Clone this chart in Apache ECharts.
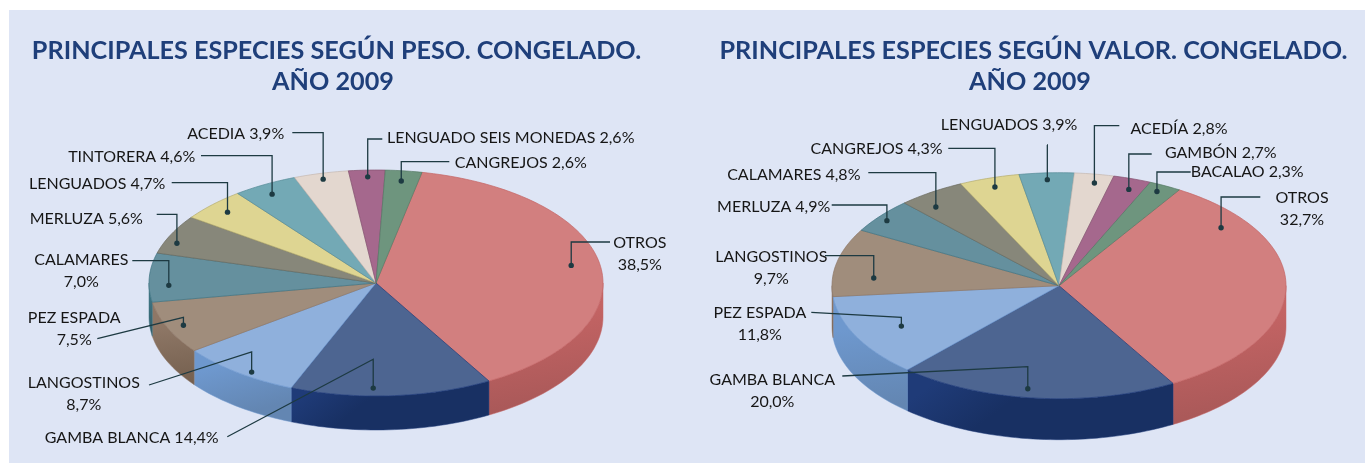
<!DOCTYPE html>
<html><head><meta charset="utf-8">
<style>html,body{margin:0;padding:0;background:#fff}#c{width:1365px;height:463px}</style>
<script src="https://cdn.jsdelivr.net/npm/echarts@6/dist/echarts.min.js"></script>
</head><body><div id="c"></div>
<script>
// ---- data ----
const pesoCategories = ['OTROS','GAMBA BLANCA','LANGOSTINOS','PEZ ESPADA','CALAMARES','MERLUZA','LENGUADOS','TINTORERA','ACEDIA','LENGUADO SEIS MONEDAS','CANGREJOS'];
const pesoValues = [38.5,14.4,8.7,7.5,7.0,5.6,4.7,4.6,3.9,2.6,2.6];
const valorCategories = ['OTROS','GAMBA BLANCA','PEZ ESPADA','LANGOSTINOS','MERLUZA','CALAMARES','CANGREJOS','LENGUADOS','ACEDÍA','GAMBÓN','BACALAO'];
const valorValues = [32.7,20.0,11.8,9.7,4.9,4.8,4.3,3.9,2.8,2.7,2.3];
const titlePeso = 'PRINCIPALES ESPECIES SEGÚN PESO. CONGELADO.';
const titleValor = 'PRINCIPALES ESPECIES SEGÚN VALOR. CONGELADO.';
const titleYear = 'AÑO 2009';

// ---- styles ----
const topColors = ['#d27f7f','#4d6591','#8fb0dc','#a08d7c','#65909e','#87877a','#ded592','#73a9b5','#e3d7cf','#a5688d','#6e957e'];
const wallColors = [['#c46464','#a85858'],['#1f3b78','#183063'],['#6e98ce','#6386b2'],['#8e7766','#75604f'],['#3f7482','#2f5a66'],['#6a6a5e','#55554a'],['#b5ac6e','#958e58'],['#558b97','#457783'],['#c4b8b0','#a89c94'],['#84506f','#6c405b'],['#557a64','#466552']];
const INK = '#1d3a42';
const FONT = 'Lato';
const LABEL_SIZE = 16;
const LINE_H = 22;

// ---- layout ----
const pesoGeom = {cx:376, cy:283, rx:227, ry:113, depth:34, start:11.7};
const valorGeom = {cx:1059, cy:285.7, rx:227, ry:113, depth:41, start:32};
// per slice: dot angle nudge (deg), dot radial fraction, leader corner, leader end, label centre x, label first-line y, line break?
const pesoCallouts = [
 {da:-1.2,r:.874,corner:242,end:[610,242],lx:639.8,ly:242.3,br:1},
 {da:4.7,r:.93,corner:359.3,end:[227.3,436.7],lx:131.7,ly:437.3},
 {da:-2.8,r:.96,corner:352,end:[149,385],lx:83.8,ly:382.3,br:1},
 {da:-.5,r:.927,corner:317.3,end:[97.3,338.7],lx:74.2,ly:317.3,br:1},
 {da:-4.1,r:.913,corner:260.7,end:[132.3,260.7],lx:81.3,ly:259.3,br:1},
 {da:-3.6,r:.945,corner:214.3,end:[156.7,214.3],lx:86.3,ly:218},
 {da:-.2,r:.906,corner:182.7,end:[171.7,182.7],lx:97.2,ly:182.7},
 {da:-.9,r:.91,corner:155.7,end:[201,155.7],lx:131.7,ly:156},
 {da:-.2,r:.948,corner:132.7,end:[292.3,132.7],lx:235.7,ly:133},
 {da:.1,r:.94,corner:139,end:[382.3,139],lx:510.7,ly:137.3},
 {da:0,r:.91,corner:161.7,end:[449.3,161.7],lx:520.8,ly:162.3}
];
const valorCallouts = [
 {da:-36.6,r:.879,corner:197,end:[1260.3,197],lx:1302,ly:197.3,br:1},
 {da:2.7,r:.922,corner:366.7,end:[842.3,376],lx:772.3,ly:379,br:1},
 {da:-.4,r:.781,corner:317.3,end:[811.3,312.3],lx:759.8,ly:311.7,br:1},
 {da:-7.1,r:.819,corner:255.7,end:[825,255.7],lx:771.3,ly:256,br:1},
 {da:-1,r:.952,corner:205,end:[831.7,205],lx:773.7,ly:205.7},
 {da:-3.6,r:.883,corner:172.7,end:[868.3,172.7],lx:793.8,ly:174},
 {da:0,r:.918,corner:148.3,end:[948.3,148.3],lx:876.5,ly:148.3},
 {da:0,r:.94,corner:145,end:[1047,145],lx:1009,ly:124},
 {da:.8,r:.922,corner:125.7,end:[1119.3,125.7],lx:1179,ly:127.7},
 {da:1,r:.906,corner:154,end:[1151.7,154],lx:1220.8,ly:152.3},
 {da:-.5,r:.939,corner:172,end:[1190.7,172],lx:1247.2,ly:171.3}
];

function spans(values, start){
  const total = values.reduce((a,b)=>a+b,0);
  let acc = start;
  return values.map(v=>{const a=acc; acc += v/total*360; return [a,acc];});
}
const pt = (g,deg,f=1,dy=0)=>{const t=deg*Math.PI/180; return [g.cx+g.rx*f*Math.sin(t), g.cy-g.ry*f*Math.cos(t)+dy];};
function arc(g,a,b,dy=0){
  const n=Math.max(2,Math.ceil(Math.abs(b-a)/1.5)), out=[];
  for(let i=0;i<=n;i++) out.push(pt(g,a+(b-a)*i/n,1,dy));
  return out;
}
function wallParts(g,a,b){
  const parts=[];
  [0,360].forEach(off=>{
    const s=Math.max(a,90+off), e=Math.min(b,270+off);
    if(e>s) parts.push([s,e]);
  });
  return parts;
}
function pieSeries(name,cats,values,geom,callouts){
  const sp=spans(values,geom.start);
  const grad=(c)=>new echarts.graphic.LinearGradient(0,0,.2,1,[{offset:.3,color:c[0]},{offset:1,color:c[1]}]);
  const wall={
    type:'custom',name:name+' lateral',coordinateSystem:'none',silent:true,z:2,
    data:values,
    renderItem(p,api){
      const [a,b]=sp[p.dataIndex]; const i=p.dataIndex;
      return {type:'group',children:wallParts(geom,a,b).map(([s,e])=>({
        type:'polygon',
        shape:{points:arc(geom,s,e).concat(arc(geom,e,s,geom.depth))},
        style:{fill:grad(wallColors[i]),stroke:wallColors[i][0],lineWidth:.5}
      }))};
    }
  };
  const face={
    type:'custom',name:name,coordinateSystem:'none',silent:true,z:3,
    data:cats.map((c,i)=>({name:c,value:values[i]})),
    renderItem(p,api){
      const [a,b]=sp[p.dataIndex]; const i=p.dataIndex;
      return {type:'polygon',
        shape:{points:[[geom.cx,geom.cy]].concat(arc(geom,a,b))},
        style:{fill:topColors[i],stroke:wallColors[i][0],lineWidth:.7}};
    }
  };
  const notes={
    type:'custom',name:name+' etiquetas',coordinateSystem:'none',silent:true,z:5,
    data:values,
    renderItem(p,api){
      const i=p.dataIndex,c=callouts[i],[a,b]=sp[i];
      const d=pt(geom,(a+b)/2+c.da,c.r);
      const v=api.value(0).toFixed(1).replace('.',',')+'%';
      const lines=c.br?[cats[i],v]:[cats[i]+' '+v];
      return {type:'group',children:[
        {type:'polyline',shape:{points:[d,[d[0],c.corner],c.end]},style:{fill:null,stroke:INK,lineWidth:1.3}},
        {type:'circle',shape:{cx:d[0],cy:d[1],r:2.7},style:{fill:INK}},
        ...lines.map((t,k)=>({type:'text',style:{text:t,x:c.lx,y:c.ly+.7+k*LINE_H,align:'center',verticalAlign:'middle',font:LABEL_SIZE+'px '+FONT,fill:'#161616'}}))
      ]};
    }
  };
  return [wall,face,notes];
}
const chart=echarts.init(document.getElementById('c'),null,{renderer:'canvas'});
const titleStyle={fontFamily:FONT,fontWeight:'bold',fontSize:25.2,color:'#1f3f7a',lineHeight:31};
chart.setOption({
  animation:false,
  backgroundColor:'#ffffff',
  graphic:[{type:'rect',z:-1,shape:{x:9,y:10,width:1356,height:453},style:{fill:'#dee5f5'}}],
  title:[
    {text:titlePeso,left:331.5,top:30,textAlign:'center',textStyle:titleStyle},
    {text:titleYear,left:328,top:61,textAlign:'center',textStyle:titleStyle},
    {text:titleValor,left:1028.5,top:30,textAlign:'center',textStyle:titleStyle},
    {text:titleYear,left:1025,top:61,textAlign:'center',textStyle:titleStyle}
  ],
  series:[...pieSeries('Peso',pesoCategories,pesoValues,pesoGeom,pesoCallouts),
          ...pieSeries('Valor',valorCategories,valorValues,valorGeom,valorCallouts)]
});
</script></body></html>
